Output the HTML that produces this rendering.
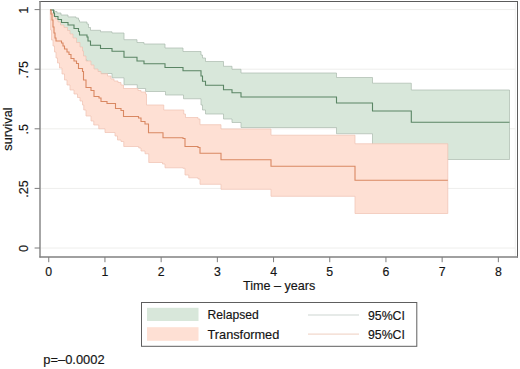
<!DOCTYPE html>
<html lang="en"><head><meta charset="utf-8"><title>Survival: Relapsed vs Transformed</title>
<style>
html,body{margin:0;padding:0;background:#fff;}
body{width:520px;height:369px;overflow:hidden;}
svg{display:block;}
</style></head><body>
<svg width="520" height="369" viewBox="0 0 520 369" font-family='"Liberation Sans", Arial, sans-serif' fill="#141414" stroke="#141414" stroke-width="0.16">
<rect width="520" height="369" fill="#fff" stroke="none"/>
<line x1="40.5" x2="515.5" y1="248" y2="248" stroke="#eeeeec" stroke-width="1"/>
<line x1="40.5" x2="515.5" y1="188.4" y2="188.4" stroke="#eeeeec" stroke-width="1"/>
<line x1="40.5" x2="515.5" y1="128.8" y2="128.8" stroke="#eeeeec" stroke-width="1"/>
<line x1="40.5" x2="515.5" y1="69.2" y2="69.2" stroke="#eeeeec" stroke-width="1"/>
<line x1="40.5" x2="515.5" y1="9.6" y2="9.6" stroke="#eeeeec" stroke-width="1"/>
<line x1="515.3" x2="515.3" y1="2.5" y2="256.5" stroke="#efefee" stroke-width="0.8"/>
<polygon points="50,10 54,10 54,11.5 57,11.5 57,13 61,13 61,15 68,15 68,16.9 76,16.9 76,18 78.5,18 78.5,20 79.5,20 79.5,22 87,22 87,24 88.5,24 88.5,27.5 90.5,27.5 90.5,30.3 100.5,30.3 100.5,31.8 112,31.8 112,33 124,33 124,39.7 137,39.7 137,42.5 144,42.5 144,44 165,44 165,48 183,48 183,51.5 201,51.5 201,55 202.5,55 202.5,58 205.5,58 205.5,61.5 223.5,61.5 223.5,66.3 232,66.3 232,69.3 241,69.3 241,73 336.5,73 336.5,77.5 372.5,77.5 372.5,83.2 411.3,83.2 411.3,90 509.5,90 509.5,159.5 411.3,159.5 411.3,145 372.5,145 372.5,133.75 336.5,133.75 336.5,127.5 241,127.5 241,122.5 232,122.5 232,119 223.5,119 223.5,114 205.5,114 205.5,110 202.5,110 202.5,105 201,105 201,98.75 183.5,98.75 183.5,95 165.5,95 165.5,91.5 145.6,91.5 145.6,88.5 137.25,88.5 137.25,84.75 124,84.75 124,77.8 112,77.8 112,73.5 100.5,73.5 100.5,72 90.5,72 90.5,69 88.5,69 88.5,66 87,66 87,60 79.5,60 79.5,52 74,52 74,44 68,44 68,38 61.5,38 61.5,34 58,34 58,28 54.5,28 54.5,10 50,10" fill="#d8e7da" stroke="#aab9ae" stroke-width="0.7" stroke-linejoin="miter"/>
<polygon points="50,10 51.5,10 51.5,13 53.5,13 53.5,16 55.5,16 55.5,19 58,19 58,22 60.5,22 60.5,25 64,25 64,27.5 67.5,27.5 67.5,30.5 70,30.5 70,34 73,34 73,38 76.5,38 76.5,42.5 80,42.5 80,47 82.5,47 82.5,51 83.5,51 83.5,56 86,56 86,61 91,61 91,65 94,65 94,69 98,69 98,71.5 101,71.5 101,73.75 107.5,73.75 107.5,76 111,76 111,79 114,79 114,81 118,81 118,82.5 121,82.5 121,85 123.5,85 123.5,88.5 138,88.5 138,90.5 141,90.5 141,92 145.5,92 145.5,94 146.5,94 146.5,105 163.75,105 163.75,110 183.75,110 183.75,114 185.5,114 185.5,117.5 198,117.5 198,119 200,119 200,124.7 221,124.7 221,129 271,129 271,135.2 355,135.2 355,143.75 447.8,143.75 447.8,213.5 355,213.5 355,196.3 271,196.3 271,189.3 221,189.3 221,184.3 200,184.3 200,179 198,179 198,177.8 188.75,177.8 188.75,175 185,175 185,168.3 183,168.3 183,167.8 165,167.8 165,164 162.5,164 162.5,162.5 148.75,162.5 148.75,153.75 145,153.75 145,151 141,151 141,148 138.75,148 138.75,146.5 123.75,146.5 123.75,141.5 121,141.5 121,140 117.5,140 117.5,136 115,136 115,132.5 105,132.5 105,128.75 98.75,128.75 98.75,125 93.75,125 93.75,121 91,121 91,116 86,116 86,110 83.75,110 83.75,105 82.5,105 82.5,101 80,101 80,97.5 77.5,97.5 77.5,94 74,94 74,90 70,90 70,85 67,85 67,80 64.5,80 64.5,74 62,74 62,68 59.5,68 59.5,63 57.5,63 57.5,58 56,58 56,52 54.5,52 54.5,46 53,46 53,40 51.5,40 51.5,30 50.6,30 50.6,20 50.3,20 50.3,10 50,10" fill="#fee0d4" stroke="#efc2b1" stroke-width="0.7" stroke-linejoin="miter"/>
<polyline points="50,10 53.5,10 53.5,13 54.5,13 54.5,16.5 58,16.5 58,19.5 61.5,19.5 61.5,22.5 68,22.5 68,25 74,25 74,28.5 78.5,28.5 78.5,31.5 79.5,31.5 79.5,35 87,35 87,37 88,37 88,41 90.5,41 90.5,45.2 100.5,45.2 100.5,48.5 112,48.5 112,51.3 124,51.3 124,57.2 137,57.2 137,61 144,61 144,63.8 165,63.8 165,67.5 183,67.5 183,70.7 201,70.7 201,76 202.5,76 202.5,81.3 205.5,81.3 205.5,85.2 223.5,85.2 223.5,89.7 232,89.7 232,92.7 241,92.7 241,97 336.5,97 336.5,103 372.5,103 372.5,111 411.3,111 411.3,122.3 509.5,122.3" fill="none" stroke="#5a8564" stroke-width="1.1"/>
<polyline points="50,10 51,10 51,14 52,14 52,20 53,20 53,27 54,27 54,33 55,33 55,38 56,38 56,41 61.5,41 61.5,43 63,43 63,46 64.5,46 64.5,49 67,49 67,52 69,52 69,54.5 71,54.5 71,58.5 74,58.5 74,61 76.5,61 76.5,63.5 78.5,63.5 78.5,68.5 82.5,68.5 82.5,71.5 83.5,71.5 83.5,80 86,80 86,87.5 91,87.5 91,90.5 94,90.5 94,96.5 99,96.5 99,98 101,98 101,101.5 107,101.5 107,103.5 115.5,103.5 115.5,108.5 121,108.5 121,110.5 123.5,110.5 123.5,116.5 138.5,116.5 138.5,118 141,118 141,121.5 145,121.5 145,124 148.5,124 148.5,132.8 163,132.8 163,137.7 183,137.7 183,138.5 185,138.5 185,146.5 198,146.5 198,147.5 200,147.5 200,153.3 221,153.3 221,159.7 271,159.7 271,166.3 355,166.3 355,180.3 447.8,180.3" fill="none" stroke="#d98862" stroke-width="1.1"/>
<line x1="39.4" x2="518" y1="1.5" y2="1.5" stroke="#5c5c5c" stroke-width="1"/>
<line x1="517.5" x2="517.5" y1="1" y2="257.6" stroke="#5c5c5c" stroke-width="1"/>
<line x1="40" x2="40" y1="1" y2="257.6" stroke="#808080" stroke-width="1.4"/>
<line x1="39.4" x2="518" y1="257" y2="257" stroke="#808080" stroke-width="1.4"/>
<line x1="34.6" x2="40" y1="248" y2="248" stroke="#7d7d7d" stroke-width="1"/>
<line x1="34.6" x2="40" y1="188.4" y2="188.4" stroke="#7d7d7d" stroke-width="1"/>
<line x1="34.6" x2="40" y1="128.8" y2="128.8" stroke="#7d7d7d" stroke-width="1"/>
<line x1="34.6" x2="40" y1="69.2" y2="69.2" stroke="#7d7d7d" stroke-width="1"/>
<line x1="34.6" x2="40" y1="9.6" y2="9.6" stroke="#7d7d7d" stroke-width="1"/>
<line x1="48.75" x2="48.75" y1="257" y2="262.2" stroke="#7d7d7d" stroke-width="1"/>
<line x1="104.95" x2="104.95" y1="257" y2="262.2" stroke="#7d7d7d" stroke-width="1"/>
<line x1="161.15" x2="161.15" y1="257" y2="262.2" stroke="#7d7d7d" stroke-width="1"/>
<line x1="217.35" x2="217.35" y1="257" y2="262.2" stroke="#7d7d7d" stroke-width="1"/>
<line x1="273.55" x2="273.55" y1="257" y2="262.2" stroke="#7d7d7d" stroke-width="1"/>
<line x1="329.75" x2="329.75" y1="257" y2="262.2" stroke="#7d7d7d" stroke-width="1"/>
<line x1="385.95" x2="385.95" y1="257" y2="262.2" stroke="#7d7d7d" stroke-width="1"/>
<line x1="442.15" x2="442.15" y1="257" y2="262.2" stroke="#7d7d7d" stroke-width="1"/>
<line x1="498.35" x2="498.35" y1="257" y2="262.2" stroke="#7d7d7d" stroke-width="1"/>
<text x="48.75" y="275.8" font-size="12.3" text-anchor="middle">0</text>
<text x="104.95" y="275.8" font-size="12.3" text-anchor="middle">1</text>
<text x="161.15" y="275.8" font-size="12.3" text-anchor="middle">2</text>
<text x="217.35" y="275.8" font-size="12.3" text-anchor="middle">3</text>
<text x="273.55" y="275.8" font-size="12.3" text-anchor="middle">4</text>
<text x="329.75" y="275.8" font-size="12.3" text-anchor="middle">5</text>
<text x="385.95" y="275.8" font-size="12.3" text-anchor="middle">6</text>
<text x="442.15" y="275.8" font-size="12.3" text-anchor="middle">7</text>
<text x="498.35" y="275.8" font-size="12.3" text-anchor="middle">8</text>
<text transform="translate(27.7,248.5) rotate(-90)" font-size="12.7" text-anchor="middle">0</text>
<text transform="translate(27.7,188.9) rotate(-90)" font-size="12.7" text-anchor="middle">.25</text>
<text transform="translate(27.7,129.3) rotate(-90)" font-size="12.7" text-anchor="middle">.5</text>
<text transform="translate(27.7,69.7) rotate(-90)" font-size="12.7" text-anchor="middle">.75</text>
<text transform="translate(27.7,10.1) rotate(-90)" font-size="12.7" text-anchor="middle">1</text>
<text transform="translate(12.4,129) rotate(-90)" font-size="12.8" text-anchor="middle">survival</text>
<text x="279.2" y="290.2" font-size="12.6" text-anchor="middle">Time – years</text>
<rect x="141.5" y="302.5" width="275.3" height="43.8" fill="#fff" stroke="#5e5e5e" stroke-width="1"/>
<rect x="147" y="307.8" width="51.5" height="13.2" fill="#d8e7da" stroke="none"/>
<rect x="147" y="327.2" width="51.5" height="13.6" fill="#fee0d4" stroke="none"/>
<text x="207.5" y="319.4" font-size="12.4" textLength="51.2" lengthAdjust="spacingAndGlyphs">Relapsed</text>
<text x="207.5" y="339" font-size="12.4" textLength="71.8" lengthAdjust="spacingAndGlyphs">Transformed</text>
<line x1="308" x2="359" y1="315" y2="315" stroke="#cdd6d1" stroke-width="1.2"/>
<line x1="308" x2="359" y1="334.2" y2="334.2" stroke="#f2d8cc" stroke-width="1.2"/>
<text x="368" y="319.7" font-size="12.3">95%CI</text>
<text x="368" y="338.9" font-size="12.3">95%CI</text>
<text x="43.3" y="364" font-size="12.9">p=–0.0002</text>
</svg>
</body></html>
